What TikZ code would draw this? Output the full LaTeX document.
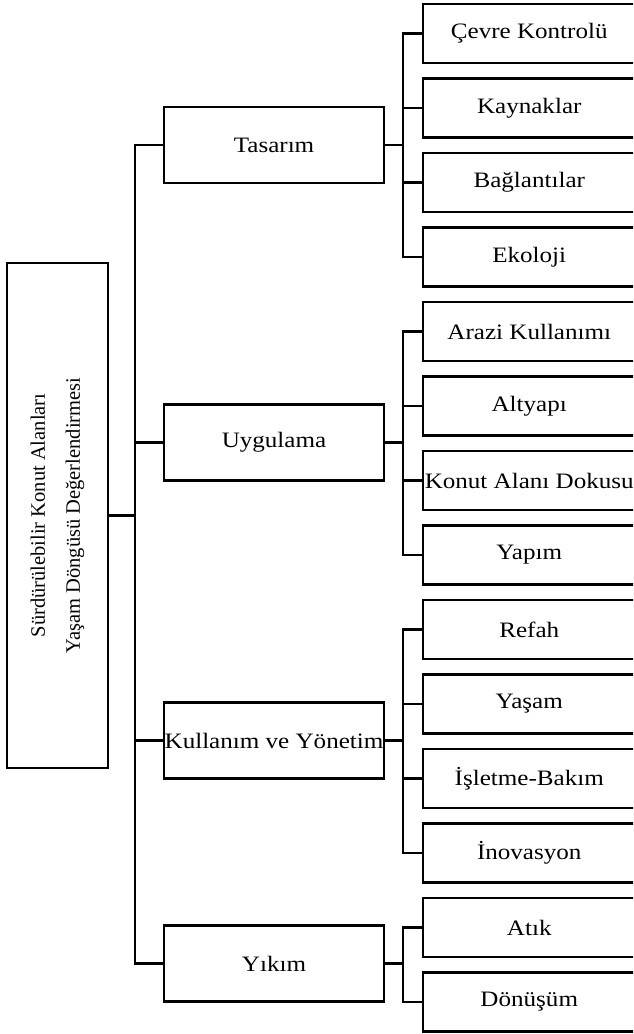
\documentclass[tikz,border=0pt]{standalone}
\usepackage{fontspec}
\setmainfont{Liberation Serif}[FakeStretch=1.14]
\newfontfamily\rootfont{Liberation Serif}
\begin{document}
\begin{tikzpicture}[x=1pt,y=-1pt,
  box/.style={draw, line width=2.5pt, inner sep=0pt, align=center,
    font=\fontsize{22}{30}\selectfont},
  rootbox/.style={box, rotate=90, minimum width=505, minimum height=101,
    font=\rootfont\fontsize{20.5}{35}\selectfont},
  parentbox/.style={box, minimum width=220, minimum height=76},
  childbox/.style={box, minimum width=212.5, minimum height=59},
  conn/.style={line width=2.5pt}]
\useasboundingbox (0,0) rectangle (633,1034);
\clip (0,0) rectangle (633,1034);

\node[rootbox] (root) at (57.5,515.5) {Sürdürülebilir Konut Alanları\\Yaşam Döngüsü Değerlendirmesi};

\node[parentbox] (p1) at (274,145) {Tasarım};
\node[parentbox] (p2) at (274,442.5) {Uygulama};
\node[parentbox] (p3) at (274,740.5) {Kullanım ve Yönetim};
\node[parentbox] (p4) at (274,963.5) {Yıkım};

\node[childbox] (c0) at (529.25,33.5) {Çevre Kontrolü};
\node[childbox] (c1) at (529.25,108) {Kaynaklar};
\node[childbox] (c2) at (529.25,182.5) {Bağlantılar};
\node[childbox] (c3) at (529.25,257) {Ekoloji};
\node[childbox] (c4) at (529.25,331.5) {Arazi Kullanımı};
\node[childbox] (c5) at (529.25,406) {Altyapı};
\node[childbox] (c6) at (529.25,480.5) {Konut Alanı Dokusu};
\node[childbox] (c7) at (529.25,555) {Yapım};
\node[childbox] (c8) at (529.25,629.5) {Refah};
\node[childbox] (c9) at (529.25,704) {Yaşam};
\node[childbox] (c10) at (529.25,778.5) {İşletme-Bakım};
\node[childbox] (c11) at (529.25,853) {İnovasyon};
\node[childbox] (c12) at (529.25,927.5) {Atık};
\node[childbox] (c13) at (529.25,1002) {Dönüşüm};

\coordinate (sp) at (135,515.5);
\coordinate (bx) at (403,0);

% root to spine
\draw[conn] (root.south) -- (sp);
\draw[conn] (p1.west) -| (sp) |- (p4.west);
\draw[conn] (p2.west) -- (p2.west -| sp);
\draw[conn] (p3.west) -- (p3.west -| sp);

% group 1
\draw[conn] (p1.east) -- (p1.east -| bx);
\draw[conn] (c0.west) -| (p1.east -| bx) |- (c3.west);
\draw[conn] (c1.west) -- (c1.west -| bx);
\draw[conn] (c2.west) -- (c2.west -| bx);
% group 2
\draw[conn] (p2.east) -- (p2.east -| bx);
\draw[conn] (c4.west) -| (p2.east -| bx) |- (c7.west);
\draw[conn] (c5.west) -- (c5.west -| bx);
\draw[conn] (c6.west) -- (c6.west -| bx);
% group 3
\draw[conn] (p3.east) -- (p3.east -| bx);
\draw[conn] (c8.west) -| (p3.east -| bx) |- (c11.west);
\draw[conn] (c9.west) -- (c9.west -| bx);
\draw[conn] (c10.west) -- (c10.west -| bx);
% group 4
\draw[conn] (p4.east) -- (p4.east -| bx);
\draw[conn] (c12.west) -| (p4.east -| bx) |- (c13.west);
\end{tikzpicture}
\end{document}
